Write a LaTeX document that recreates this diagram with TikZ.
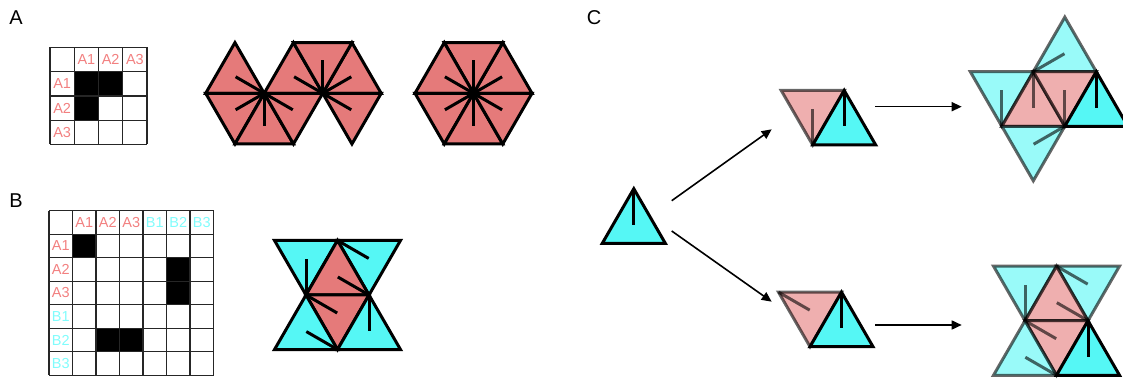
\documentclass[tikz,border=0pt]{standalone}
\usepackage{fontspec}
\setmainfont{Liberation Sans}
\usetikzlibrary{arrows.meta}

\definecolor{salmon}{HTML}{E57A7A}
\definecolor{aqua}{HTML}{55F7F5}
\definecolor{salmontext}{HTML}{F28080}
\definecolor{aquatext}{HTML}{80FCFC}

\begin{document}
\begin{tikzpicture}[x=1pt, y=1pt,
    tri/.style={draw=black, line width=3pt},
    faded/.style={tri, opacity=0.6},
    spoke/.style={black, line width=3pt},
    fadedspoke/.style={spoke, opacity=0.6},
    gridline/.style={black!85, line width=1.2pt},
    cell/.style={font=\fontsize{14.5}{14.5}\selectfont, inner sep=0pt},
    panel/.style={font=\fontsize{20}{20}\selectfont, inner sep=0pt},
    arr/.style={-{Triangle[length=10pt, width=9pt]}, line width=1.6pt}]

    \useasboundingbox (0,0) rectangle (1123,379);

    % Panel letters
    \node[panel] (labA) at (16,361) {A};
    \node[panel] (labB) at (16,178) {B};
    \node[panel] (labC) at (594,361) {C};

    % Table A
    \begin{scope}[shift={(50pt,331.5pt)}, x=24.25pt, y=-24.25pt]
        \fill (1,1) rectangle (3,2);
        \fill (1,2) rectangle (2,3);
        \foreach \i in {0,...,4} {
            \draw[gridline] (\i,0) -- (\i,4);
            \draw[gridline] (0,\i) -- (4,\i);
        }
        \foreach \t [count=\i] in {A1,A2,A3} {
            \node[cell, salmontext] (colA\i) at (\i+0.5,0.5) {\t};
            \node[cell, salmontext] (rowA\i) at (0.5,\i+0.5) {\t};
        }
    \end{scope}

    % Hexagons A
    \coordinate (hexL) at (264.2,285.7);
    \coordinate (hexR) at (322.7,285.7);
    \coordinate (hexC) at (473.5,285.7);
    \foreach \a in {0,120,180,240,300}
        \filldraw[tri, fill=salmon] (hexL) -- +(\a:58.5) -- +({\a+60}:58.5) -- cycle;
    \foreach \a in {0,60,300}
        \filldraw[tri, fill=salmon] (hexR) -- +(\a:58.5) -- +({\a+60}:58.5) -- cycle;
    \foreach \a in {0,60,...,300}
        \filldraw[tri, fill=salmon] (hexC) -- +(\a:58.5) -- +({\a+60}:58.5) -- cycle;
    \foreach \a in {150,210,270,330}
        \draw[spoke] (hexL) -- +(\a:33);
    \foreach \a in {30,90,150,330}
        \draw[spoke] (hexR) -- +(\a:33);
    \foreach \a in {30,90,...,330}
        \draw[spoke] (hexC) -- +(\a:33);

    % Table B
    \begin{scope}[shift={(49pt,168.3pt)}, x=23.5pt, y=-23.5pt]
        \fill (1,1) rectangle (2,2);
        \fill (5,2) rectangle (6,4);
        \fill (2,5) rectangle (4,6);
        \foreach \i in {0,...,7} {
            \draw[gridline] (\i,0) -- (\i,7);
            \draw[gridline] (0,\i) -- (7,\i);
        }
        \foreach \t/\c [count=\i] in {A1/salmontext,A2/salmontext,A3/salmontext,
                                       B1/aquatext,B2/aquatext,B3/aquatext} {
            \node[cell, \c] (colB\i) at (\i+0.5,0.5) {\t};
            \node[cell, \c] (rowB\i) at (0.5,\i+0.5) {\t};
        }
    \end{scope}

    % Bow tie B
    \begin{scope}[shift={(337.5pt,84pt)}]
        \coordinate (bTL) at (-63,54.56);
        \coordinate (bTM) at (0,54.56);
        \coordinate (bTR) at (63,54.56);
        \coordinate (bML) at (-31.5,0);
        \coordinate (bMR) at (31.5,0);
        \coordinate (bBL) at (-63,-54.56);
        \coordinate (bBM) at (0,-54.56);
        \coordinate (bBR) at (63,-54.56);
    \end{scope}
    \filldraw[tri, fill=aqua] (bTL) -- (bTM) -- (bML) -- cycle;
    \filldraw[tri, fill=aqua] (bTM) -- (bTR) -- (bMR) -- cycle;
    \filldraw[tri, fill=salmon] (bTM) -- (bML) -- (bMR) -- cycle;
    \filldraw[tri, fill=salmon] (bML) -- (bMR) -- (bBM) -- cycle;
    \filldraw[tri, fill=aqua] (bML) -- (bBL) -- (bBM) -- cycle;
    \filldraw[tri, fill=aqua] (bMR) -- (bBM) -- (bBR) -- cycle;
    \draw[spoke] (bML) -- +(90:36);
    \draw[spoke] (bTM) -- +(-30:36);
    \draw[spoke] (bMR) -- +(150:36);
    \draw[spoke] (bML) -- +(-30:36);
    \draw[spoke] (bBM) -- +(150:36);
    \draw[spoke] (bMR) -- +(270:36);

    % Single triangle C
    \coordinate (sL) at (602.3,135.7);
    \coordinate (sR) at (665.3,135.7);
    \coordinate (sT) at (633.8,190.26);
    \filldraw[tri, fill=aqua] (sL) -- (sR) -- (sT) -- cycle;
    \draw[spoke] (sT) -- +(270:36);

    % Upper pair
    \coordinate (uL) at (781.2,288.56);
    \coordinate (uM) at (844.2,288.56);
    \coordinate (uB) at (812.7,234);
    \coordinate (uR) at (875.7,234);
    \filldraw[faded, fill=salmon] (uL) -- (uM) -- (uB) -- cycle;
    \draw[fadedspoke] (uB) -- +(90:36);
    \filldraw[tri, fill=aqua] (uB) -- (uR) -- (uM) -- cycle;
    \draw[spoke] (uM) -- +(270:36);

    % Lower pair
    \coordinate (lL) at (778.5,86.86);
    \coordinate (lM) at (841.5,86.86);
    \coordinate (lB) at (810,32.3);
    \coordinate (lR) at (873,32.3);
    \filldraw[faded, fill=salmon] (lL) -- (lM) -- (lB) -- cycle;
    \draw[fadedspoke] (lL) -- +(-30:36);
    \filldraw[tri, fill=aqua] (lB) -- (lR) -- (lM) -- cycle;
    \draw[spoke] (lM) -- +(270:36);

    % Star (upper right)
    \coordinate (cP) at (1033.3,307.3);
    \coordinate (cQ) at (1096.3,307.3);
    \coordinate (cV) at (970.3,307.3);
    \coordinate (cR) at (1001.8,252.74);
    \coordinate (cS) at (1064.8,252.74);
    \coordinate (cT) at (1127.8,252.74);
    \coordinate (cU) at (1064.8,361.86);
    \coordinate (cW) at (1033.3,198.18);
    \filldraw[faded, fill=aqua] (cP) -- (cQ) -- (cU) -- cycle;
    \filldraw[faded, fill=aqua] (cV) -- (cP) -- (cR) -- cycle;
    \filldraw[faded, fill=salmon] (cP) -- (cR) -- (cS) -- cycle;
    \filldraw[faded, fill=salmon] (cP) -- (cQ) -- (cS) -- cycle;
    \filldraw[faded, fill=aqua] (cR) -- (cS) -- (cW) -- cycle;
    \draw[fadedspoke] (cP) -- +(30:36);
    \draw[fadedspoke] (cR) -- +(90:36);
    \draw[fadedspoke] (cP) -- +(270:36);
    \draw[fadedspoke] (cS) -- +(90:36);
    \draw[fadedspoke] (cS) -- +(210:36);
    \filldraw[tri, fill=aqua] (cQ) -- (cS) -- (cT) -- cycle;
    \draw[spoke] (cQ) -- +(270:36);

    % Bow tie (lower right)
    \begin{scope}[shift={(1056.5pt,58.3pt)}]
        \coordinate (dTL) at (-63,54.56);
        \coordinate (dTM) at (0,54.56);
        \coordinate (dTR) at (63,54.56);
        \coordinate (dML) at (-31.5,0);
        \coordinate (dMR) at (31.5,0);
        \coordinate (dBL) at (-63,-54.56);
        \coordinate (dBM) at (0,-54.56);
        \coordinate (dBR) at (63,-54.56);
    \end{scope}
    \filldraw[faded, fill=aqua] (dTL) -- (dTM) -- (dML) -- cycle;
    \filldraw[faded, fill=aqua] (dTM) -- (dTR) -- (dMR) -- cycle;
    \filldraw[faded, fill=salmon] (dTM) -- (dML) -- (dMR) -- cycle;
    \filldraw[faded, fill=salmon] (dML) -- (dMR) -- (dBM) -- cycle;
    \filldraw[faded, fill=aqua] (dML) -- (dBL) -- (dBM) -- cycle;
    \draw[fadedspoke] (dML) -- +(90:36);
    \draw[fadedspoke] (dTM) -- +(-30:36);
    \draw[fadedspoke] (dMR) -- +(150:36);
    \draw[fadedspoke] (dML) -- +(-30:36);
    \draw[fadedspoke] (dBM) -- +(150:36);
    \filldraw[tri, fill=aqua] (dMR) -- (dBM) -- (dBR) -- cycle;
    \draw[spoke] (dMR) -- +(270:36);

    % Arrows
    \coordinate (startUp) at (671.7,178.3);
    \coordinate (startDown) at (671.7,148);
    \coordinate (upIn) at (771.7,249.7);
    \coordinate (lowIn) at (771.7,77.3);
    \coordinate (upOut) at (875,272.3);
    \coordinate (starIn) at (961.7,272.3);
    \coordinate (lowOut) at (875,54);
    \coordinate (bowIn) at (961.7,54);
    \draw[arr] (startUp) -- (upIn);
    \draw[arr] (startDown) -- (lowIn);
    \draw[arr] (upOut) -- (starIn);
    \draw[arr] (lowOut) -- (bowIn);
\end{tikzpicture}
\end{document}
